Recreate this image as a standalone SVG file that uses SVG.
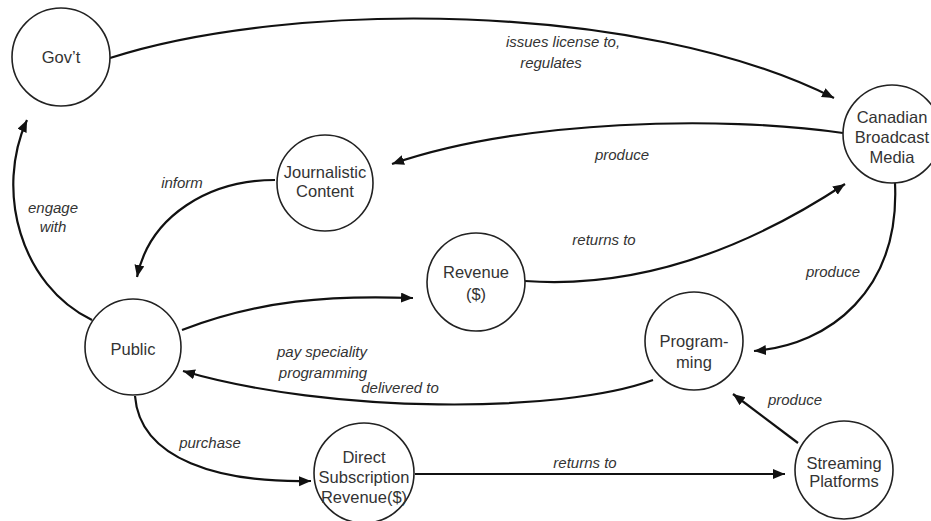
<svg xmlns="http://www.w3.org/2000/svg" width="931" height="521" viewBox="0 0 931 521">
  <defs>
    <marker id="arrow" markerUnits="userSpaceOnUse" markerWidth="14" markerHeight="12" refX="12" refY="5" orient="auto">
      <path d="M0,0 L12,5 L0,10 Z" fill="#111"/>
    </marker>
    <style>
      .node circle { fill: #fff; stroke: #222; stroke-width: 1.6; }
      .node text { font-family: "Liberation Sans", Arial, sans-serif; font-size: 16.5px; fill: #333; text-anchor: middle; }
      .edge { fill: none; stroke: #111; stroke-width: 2.2; marker-end: url(#arrow); }
      .label { font-family: "Liberation Sans", Arial, sans-serif; font-size: 15px; font-style: italic; fill: #333; text-anchor: middle; }
    </style>
  </defs>
  <rect width="931" height="521" fill="#fff"/>

  <!-- connectors -->
  <g id="connectors">
    <path class="edge" d="M110,58 C 290,0 640,0 834,98"/>
    <path class="edge" d="M843,133 C 720,115 520,120 392,164"/>
    <path class="edge" d="M275,180 C 210,180 150,215 137,277"/>
    <path class="edge" d="M92,320 C 20,285 -5,190 27,120"/>
    <path class="edge" d="M182,330 C 260,300 330,295 413,298"/>
    <path class="edge" d="M525,281 C 650,290 760,240 845,184"/>
    <path class="edge" d="M895,183 C 900,290 830,345 754,351"/>
    <path class="edge" d="M653,380 C 560,414 330,414 183,371"/>
    <path class="edge" d="M135,396 C 140,460 220,483 311,481"/>
    <path class="edge" d="M415,474 L 785,474"/>
    <path class="edge" d="M798,443 L 733,394"/>

    <text class="label" x="563" y="47">issues license to,</text>
    <text class="label" x="551" y="68">regulates</text>
    <text class="label" x="622" y="160">produce</text>
    <text class="label" x="182" y="188">inform</text>
    <text class="label" x="53" y="213">engage</text>
    <text class="label" x="53" y="232">with</text>
    <text class="label" x="604" y="245">returns to</text>
    <text class="label" x="833" y="277">produce</text>
    <text class="label" x="322" y="357">pay speciality</text>
    <text class="label" x="323" y="378">programming</text>
    <text class="label" x="400" y="393">delivered to</text>
    <text class="label" x="210" y="448">purchase</text>
    <text class="label" x="585" y="468">returns to</text>
    <text class="label" x="795" y="405">produce</text>
  </g>

  <!-- nodes -->
  <g id="govt" class="node">
    <circle cx="61" cy="57" r="49"/>
    <text x="61" y="63">Gov’t</text>
  </g>
  <g id="canadian-broadcast-media" class="node">
    <circle cx="892" cy="134" r="49"/>
    <text x="892" y="123">Canadian</text>
    <text x="892" y="143">Broadcast</text>
    <text x="892" y="163">Media</text>
  </g>
  <g id="journalistic-content" class="node">
    <circle cx="325" cy="183" r="48"/>
    <text x="325" y="178">Journalistic</text>
    <text x="325" y="197">Content</text>
  </g>
  <g id="revenue" class="node">
    <circle cx="476" cy="282" r="49"/>
    <text x="476" y="278">Revenue</text>
    <text x="476" y="300">($)</text>
  </g>
  <g id="public" class="node">
    <circle cx="133" cy="347" r="48"/>
    <text x="133" y="355">Public</text>
  </g>
  <g id="programming" class="node">
    <circle cx="694" cy="341" r="49"/>
    <text x="694" y="347">Program-</text>
    <text x="694" y="368">ming</text>
  </g>
  <g id="direct-subscription-revenue" class="node">
    <circle cx="364" cy="473" r="50"/>
    <text x="364" y="463">Direct</text>
    <text x="364" y="483">Subscription</text>
    <text x="364" y="503">Revenue($)</text>
  </g>
  <g id="streaming-platforms" class="node">
    <circle cx="844" cy="470" r="49"/>
    <text x="844" y="469">Streaming</text>
    <text x="844" y="487">Platforms</text>
  </g>
</svg>
